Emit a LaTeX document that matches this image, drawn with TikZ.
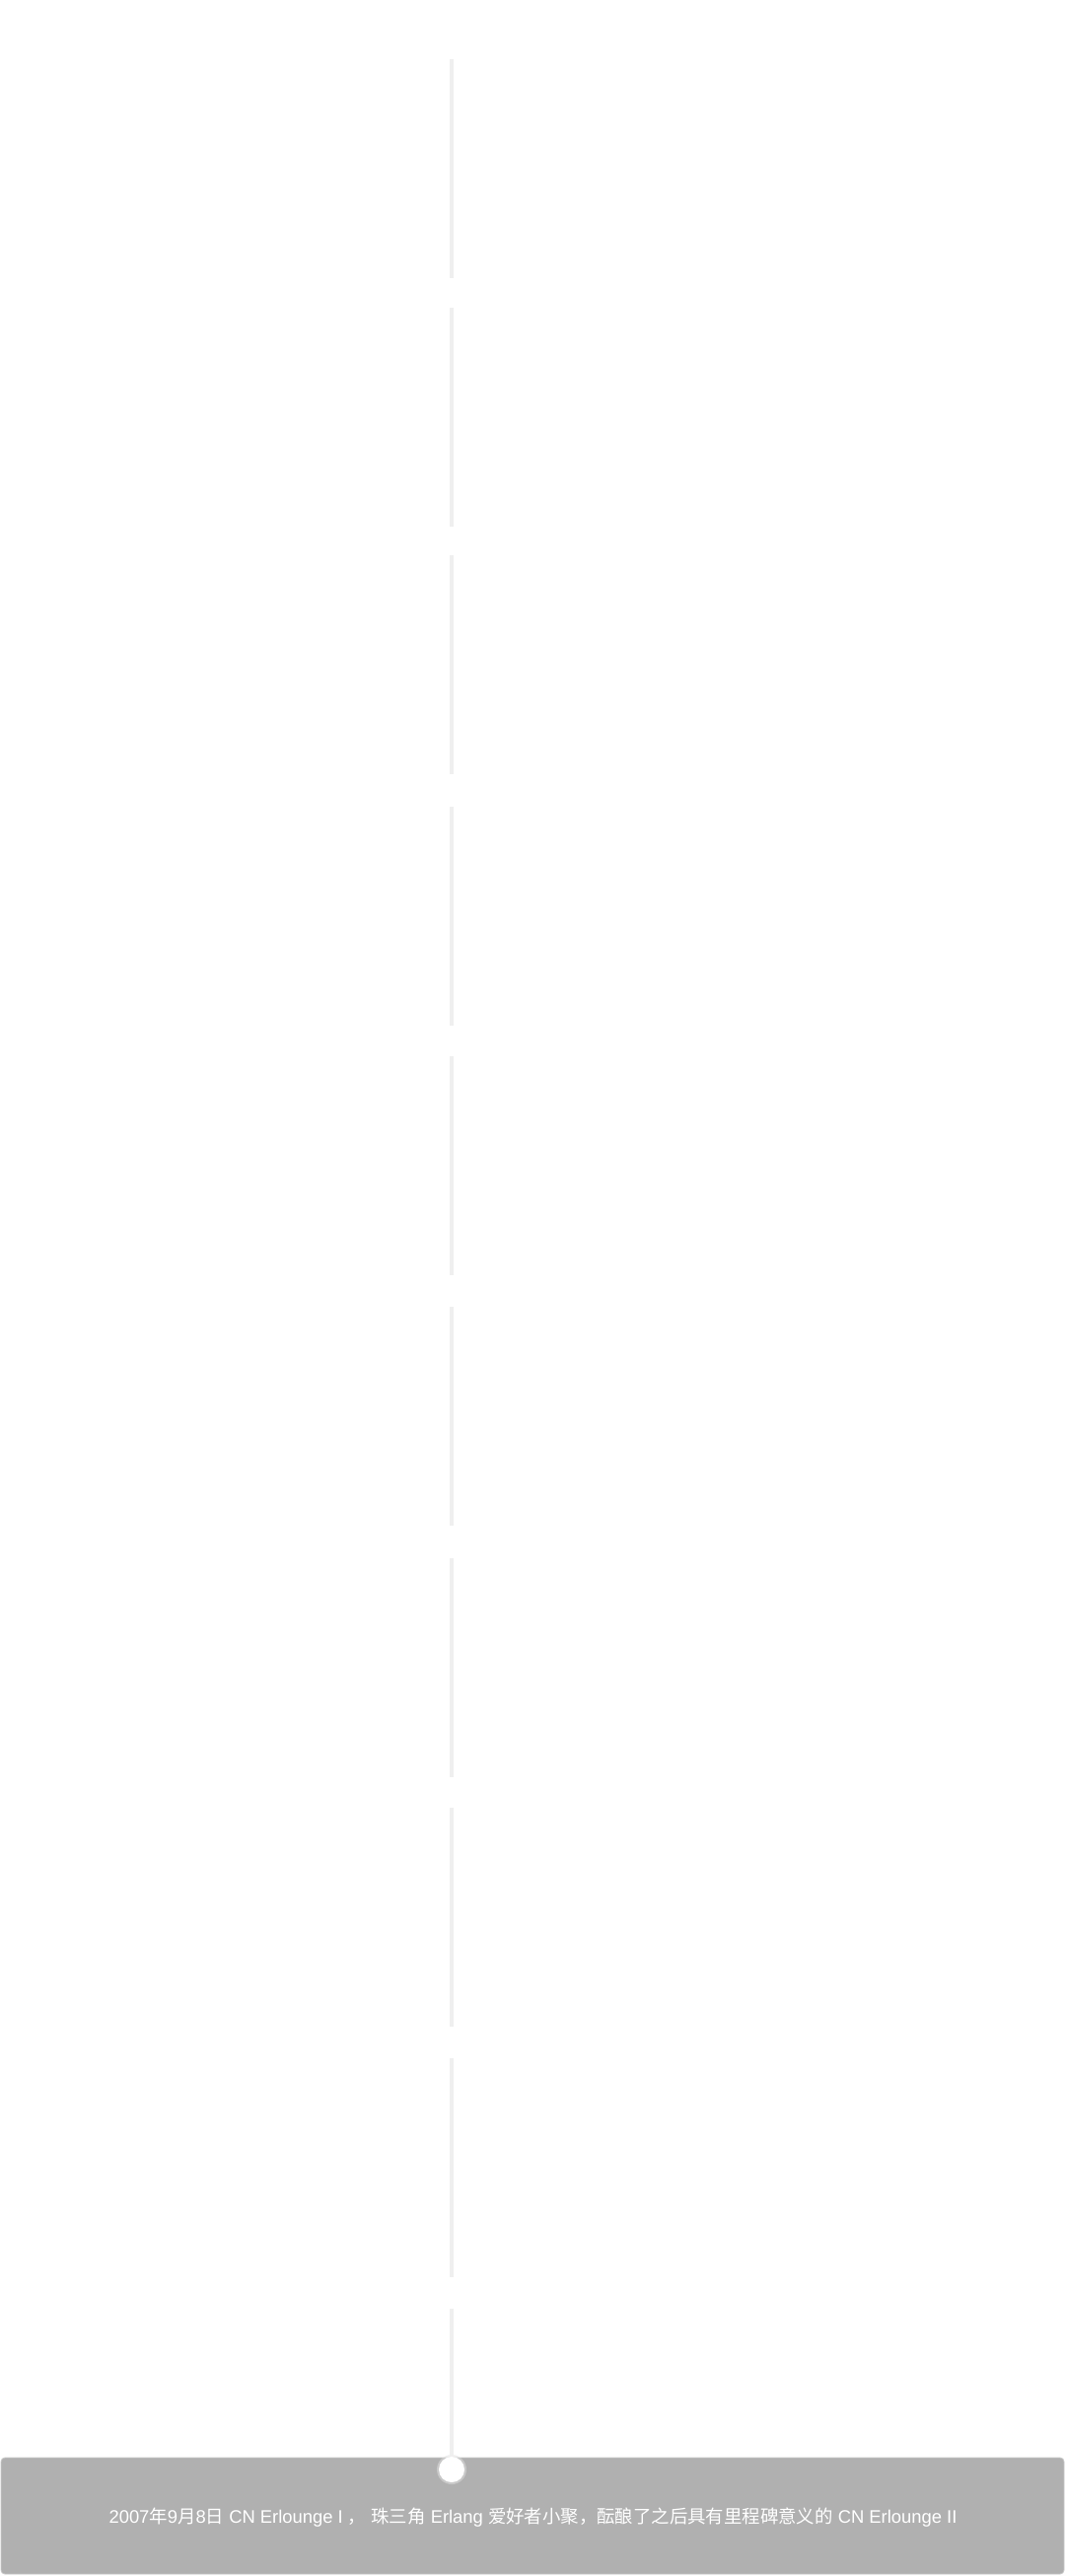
\documentclass[tikz,border=0pt]{standalone}
\usepackage{fontspec}
\setmainfont{Liberation Sans}
\newfontfamily\cjk{Noto Sans CJK SC}
\definecolor{trackgray}{HTML}{EFEFEF}
\definecolor{boxgray}{HTML}{B0B0B0}
\definecolor{boxedge}{HTML}{C8C8C8}
\newcommand{\zh}[1]{{\cjk #1}}
\tikzset{
  track/.style={draw=trackgray, line width=4pt},
  eventbox/.style={fill=boxgray, draw=boxedge, line width=0.8pt, rounded corners=4pt},
  marker/.style={circle, fill=white, minimum size=26pt, inner sep=0pt},
  markerglow/.style={circle, fill=black!12, minimum size=30pt, inner sep=0pt},
  eventtext/.style={text=white, font=\fontsize{18.4pt}{22pt}\selectfont, anchor=base, inner sep=0pt}
}
\begin{document}
\begin{tikzpicture}[x=1pt, y=-1pt]
  \useasboundingbox (0,0) rectangle (1080,2612);
  % dashed timeline track
  \foreach \s in {60,312,563,818,1071,1325,1580,1833,2087}{
    \draw[track] (458,\s) -- (458,\s+222);
  }
  \coordinate (trackend) at (458,2341);
  % event card
  \draw[eventbox] (1,2492) rectangle (1079,2610);
  \node[markerglow, opacity=0.5] (glow) at (458,2504) {};
  \node[marker] (dot) at (458,2504) {};
  \draw[track] (trackend) -- (dot.north);
  \node[eventtext] (event) at (540.5,2558) {2007\zh{年}9\zh{月}8\zh{日} CN Erlounge I \zh{，} \zh{珠三角} Erlang \zh{爱好者小聚，酝酿了之后具有里程碑意义的} CN Erlounge II};
\end{tikzpicture}
\end{document}
